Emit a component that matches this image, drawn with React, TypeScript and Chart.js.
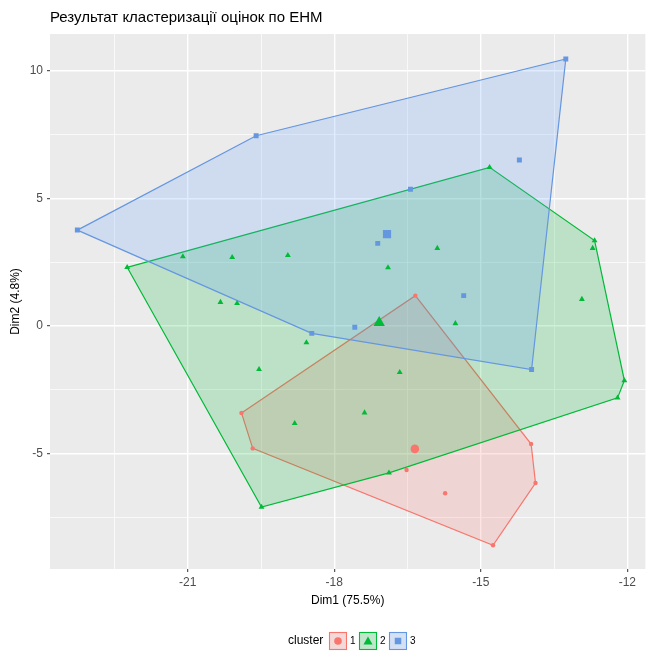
import React, { useEffect, useRef } from 'react';
import { Chart, registerables } from 'chart.js';

Chart.register(...registerables);

const chartTitle = 'Результат кластеризації оцінок по ЕНМ';
const xAxisTitle = 'Dim1 (75.5%)';
const yAxisTitle = 'Dim2 (4.8%)';
const legendTitle = 'cluster';
const clusterLabels = ['1', '2', '3'];
const clusterColors = ['#F8766D', '#00BA38', '#6596E0'];
const clusterFills = ['rgba(248,118,109,0.2)', 'rgba(0,186,56,0.2)', 'rgba(97,156,255,0.2)'];
const clusterShapes = ['circle', 'triangle', 'rect'];

// cluster 1 (circles)
const cluster1X = [-16.34, -13.97, -13.88, -14.75, -19.67, -19.9, -16.52, -15.73];
const cluster1Y = [1.19, -4.63, -6.16, -8.6, -4.8, -3.41, -5.65, -6.56];
const centroid1 = [-16.35, -4.82];

// cluster 2 (triangles)
const cluster2X = [-22.24, -14.82, -12.67, -12.06, -12.2, -19.49, -12.71, -12.93, -21.1, -20.09, -18.95, -20.33, -19.99, -18.57, -19.54, -18.81, -16.9, -15.89, -15.52, -16.66, -17.38, -16.88];
const cluster2Y = [2.3, 6.22, 3.35, -2.14, -2.82, -7.1, 3.05, 1.05, 2.72, 2.69, 2.77, 0.93, 0.89, -0.65, -1.7, -3.82, 2.29, 3.05, 0.1, -1.82, -3.4, -5.76];
const centroid2 = [-17.08, 0.13];

// cluster 3 (squares)
const cluster3X = [-23.26, -19.6, -13.26, -13.96, -18.46, -16.44, -14.21, -17.11, -15.35, -17.58];
const cluster3Y = [3.76, 7.46, 10.47, -1.71, -0.29, 5.36, 6.51, 3.24, 1.19, -0.05];
const centroid3 = [-16.92, 3.6];

const xMajorTicks = [-21, -18, -15, -12];
const xMinorTicks = [-22.5, -19.5, -16.5, -13.5];
const yMajorTicks = [-5, 0, 5, 10];
const yMinorTicks = [-7.5, -2.5, 2.5, 7.5];
const xRange = [-23.82, -11.63];
const yRange = [-9.53, 11.45];

const FONT = '"Liberation Sans", Arial, Helvetica, sans-serif';

type P = { x: number; y: number };

function toPoints(xs: number[], ys: number[]): P[] {
  return xs.map((x, i) => ({ x, y: ys[i] }));
}

function convexHull(xs: number[], ys: number[]): P[] {
  const pts = toPoints(xs, ys).sort((a, b) => a.x - b.x || a.y - b.y);
  const cross = (o: P, a: P, b: P) => (a.x - o.x) * (b.y - o.y) - (a.y - o.y) * (b.x - o.x);
  const lower: P[] = [];
  for (const p of pts) {
    while (lower.length >= 2 && cross(lower[lower.length - 2], lower[lower.length - 1], p) <= 0) lower.pop();
    lower.push(p);
  }
  const upper: P[] = [];
  for (let i = pts.length - 1; i >= 0; i--) {
    const p = pts[i];
    while (upper.length >= 2 && cross(upper[upper.length - 2], upper[upper.length - 1], p) <= 0) upper.pop();
    upper.push(p);
  }
  upper.pop();
  lower.pop();
  const hull = lower.concat(upper);
  hull.push(hull[0]);
  return hull;
}

const isIn = (arr: number[], v: number) => arr.some((a) => Math.abs(a - v) < 1e-9);

const bgPlugin = {
  id: 'panelBg',
  beforeDraw(chart: any) {
    const { ctx, chartArea: a } = chart;
    ctx.save();
    ctx.fillStyle = '#FFFFFF';
    ctx.fillRect(0, 0, chart.width, chart.height);
    ctx.fillStyle = '#EBEBEB';
    ctx.fillRect(a.left, a.top, a.right - a.left, a.bottom - a.top);
    ctx.restore();
  },
};

function drawShape(ctx: CanvasRenderingContext2D, shape: string, x: number, y: number, r: number) {
  ctx.beginPath();
  if (shape === 'circle') {
    ctx.arc(x, y, r, 0, Math.PI * 2);
  } else if (shape === 'triangle') {
    ctx.moveTo(x, y - r);
    ctx.lineTo(x + r * Math.sin((2 * Math.PI) / 3), y - r * Math.cos((2 * Math.PI) / 3));
    ctx.lineTo(x + r * Math.sin((4 * Math.PI) / 3), y - r * Math.cos((4 * Math.PI) / 3));
    ctx.closePath();
  } else {
    const s = r * Math.SQRT1_2;
    ctx.rect(x - s, y - s, 2 * s, 2 * s);
  }
  ctx.fill();
}

const textPlugin = {
  id: 'textDecor',
  afterDraw(chart: any) {
    const { ctx, chartArea: a } = chart;
    ctx.save();
    // title
    ctx.fillStyle = '#000000';
    ctx.font = `15px ${FONT}`;
    ctx.textAlign = 'left';
    ctx.textBaseline = 'alphabetic';
    ctx.fillText(chartTitle, a.left, 22);

    // legend
    const cy = 641;
    ctx.font = `12px ${FONT}`;
    ctx.textBaseline = 'middle';
    ctx.fillText(legendTitle, 288, cy);
    const radii = [3.8, 5.2, 4.6];
    for (let i = 0; i < 3; i++) {
      const cx = 338 + i * 30;
      ctx.fillStyle = '#F2F2F2';
      ctx.fillRect(cx - 9, cy - 9, 18, 18);
      ctx.fillStyle = clusterFills[i];
      ctx.fillRect(cx - 9, cy - 9, 18, 18);
      ctx.strokeStyle = clusterColors[i];
      ctx.lineWidth = 1.1;
      ctx.strokeRect(cx - 8.5, cy - 8.5, 17, 17);
      ctx.fillStyle = clusterColors[i];
      drawShape(ctx, clusterShapes[i], cx, i === 1 ? cy + 0.8 : cy, radii[i]);
      ctx.fillStyle = '#000000';
      ctx.font = `10px ${FONT}`;
      ctx.fillText(clusterLabels[i], cx + 12, cy);
    }
    ctx.restore();
  },
};

export default function App() {
  const canvasRef = useRef<HTMLCanvasElement | null>(null);

  useEffect(() => {
    document.body.style.margin = '0';
    const canvas = canvasRef.current;
    if (!canvas) return;

    const clustersX = [cluster1X, cluster2X, cluster3X];
    const clustersY = [cluster1Y, cluster2Y, cluster3Y];
    const centroids = [centroid1, centroid2, centroid3];
    const pointRadii = [2.2, 3.4, 3.5];
    const centroidRadii = [4.3, 6.6, 5.8];

    const datasets: any[] = [];
    for (let i = 0; i < 3; i++) {
      datasets.push({
        label: `hull${clusterLabels[i]}`,
        type: 'line',
        data: convexHull(clustersX[i], clustersY[i]),
        showLine: true,
        borderColor: clusterColors[i],
        borderWidth: 1.2,
        backgroundColor: clusterFills[i],
        fill: 'shape',
        tension: 0,
        pointRadius: 0,
        pointHoverRadius: 0,
        order: 10 - i,
      });
    }
    for (let i = 0; i < 3; i++) {
      datasets.push({
        label: `points${clusterLabels[i]}`,
        type: 'scatter',
        data: toPoints(clustersX[i], clustersY[i]),
        pointStyle: clusterShapes[i],
        pointRadius: pointRadii[i],
        pointBackgroundColor: clusterColors[i],
        pointBorderWidth: 0,
        pointBorderColor: clusterColors[i],
        showLine: false,
        order: 6 - i,
      });
    }
    for (let i = 0; i < 3; i++) {
      datasets.push({
        label: `centroid${clusterLabels[i]}`,
        type: 'scatter',
        data: [{ x: centroids[i][0], y: centroids[i][1] }],
        pointStyle: clusterShapes[i],
        pointRadius: centroidRadii[i],
        pointBackgroundColor: clusterColors[i],
        pointBorderWidth: 0,
        pointBorderColor: clusterColors[i],
        showLine: false,
        order: 2 - i * 0.1,
      });
    }

    const xTicks = [...xMinorTicks, ...xMajorTicks].sort((a, b) => a - b);
    const yTicks = [...yMinorTicks, ...yMajorTicks].sort((a, b) => a - b);

    const chart = new Chart(canvas, {
      type: 'scatter',
      data: { datasets },
      plugins: [bgPlugin, textPlugin],
      options: {
        animation: false,
        responsive: false,
        devicePixelRatio: 1,
        events: [],
        layout: { padding: { left: 0, right: 4, top: 34, bottom: 40 } },
        plugins: {
          legend: { display: false },
          tooltip: { enabled: false },
          title: { display: false },
        },
        scales: {
          x: {
            type: 'linear',
            min: xRange[0],
            max: xRange[1],
            afterBuildTicks: (s: any) => {
              s.ticks = xTicks.map((v) => ({ value: v }));
            },
            afterFit: (s: any) => {
              s.height = 45;
              s.paddingLeft = 0;
              s.paddingRight = 0;
            },
            border: { display: false },
            grid: {
              color: '#FFFFFF',
              lineWidth: (c: any) => (c.tick && isIn(xMajorTicks, c.tick.value) ? 1.4 : 0.7),
              tickColor: (c: any) => (c.tick && isIn(xMajorTicks, c.tick.value) ? '#333333' : 'rgba(0,0,0,0)'),
              tickWidth: 1,
              tickLength: 3,
              drawTicks: true,
            },
            ticks: {
              autoSkip: false,
              maxRotation: 0,
              padding: 3,
              color: '#4D4D4D',
              font: { size: 12, family: FONT },
              callback: (v: any) => (isIn(xMajorTicks, Number(v)) ? String(v) : ''),
            },
            title: {
              display: true,
              text: xAxisTitle,
              color: '#000000',
              font: { size: 12, family: FONT },
              padding: { top: 0, bottom: 6 },
            },
          },
          y: {
            type: 'linear',
            min: yRange[0],
            max: yRange[1],
            afterBuildTicks: (s: any) => {
              s.ticks = yTicks.map((v) => ({ value: v }));
            },
            afterFit: (s: any) => {
              s.width = 50;
              s.paddingTop = 0;
              s.paddingBottom = 0;
            },
            border: { display: false },
            grid: {
              color: '#FFFFFF',
              lineWidth: (c: any) => (c.tick && isIn(yMajorTicks, c.tick.value) ? 1.4 : 0.7),
              tickColor: (c: any) => (c.tick && isIn(yMajorTicks, c.tick.value) ? '#333333' : 'rgba(0,0,0,0)'),
              tickWidth: 1,
              tickLength: 3,
              drawTicks: true,
            },
            ticks: {
              autoSkip: false,
              padding: 4,
              color: '#4D4D4D',
              font: { size: 12, family: FONT },
              callback: (v: any) => (isIn(yMajorTicks, Number(v)) ? String(v) : ''),
            },
            title: {
              display: true,
              text: yAxisTitle,
              color: '#000000',
              font: { size: 12, family: FONT },
              padding: { top: 8, bottom: 0 },
            },
          },
        },
      } as any,
    });

    return () => {
      chart.destroy();
    };
  }, []);

  return (
    <div style={{ width: 652, height: 654 }}>
      <canvas ref={canvasRef} width={652} height={654} style={{ display: 'block' }} />
    </div>
  );
}
